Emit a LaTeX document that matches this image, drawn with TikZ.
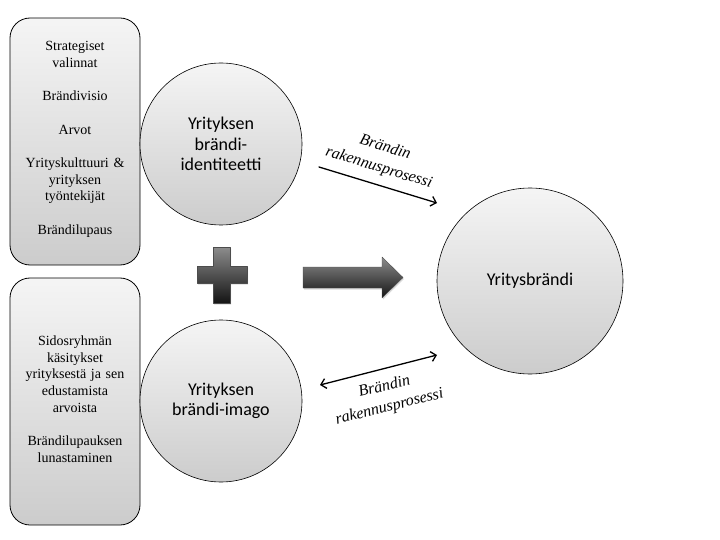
\documentclass[tikz,border=0pt]{standalone}
\usepackage{fontspec}
\setmainfont{Liberation Serif}
\newfontfamily\brandfont{Carlito}
\usetikzlibrary{arrows.meta,shadows}

\begin{document}
\begin{tikzpicture}[x=1pt, y=-1pt, line join=round,
  listbox/.style={draw=black, line width=0.8pt, rounded corners=20pt,
    top color=boxtop, bottom color=boxbot, minimum width=130pt,
    minimum height=247pt, text width=126pt, align=center, inner sep=0pt,
    font=\fontsize{14}{16.7}\selectfont},
  ball/.style={circle, draw=black, line width=0.6pt, top color=boxtop,
    bottom color=boxbot, align=center, inner sep=0pt,
    font=\brandfont\fontsize{18}{20.5}\selectfont},
  flow/.style={line width=1.3pt, line cap=round},
  flowlabel/.style={font=\itshape\fontsize{16}{21}\selectfont, align=center},
  solid3d/.style={draw=black!70, line width=0.4pt, top color=solidtop,
    bottom color=solidbot,
    drop shadow={shadow xshift=1pt, shadow yshift=-1.5pt, opacity=0.3}}]
  \definecolor{boxtop}{gray}{0.96}
  \definecolor{boxbot}{gray}{0.80}
  \definecolor{solidtop}{gray}{0.55}
  \definecolor{solidbot}{gray}{0.08}
  \useasboundingbox (0,0) rectangle (720,540);

  % left column
  \node[listbox] (choices) at (75,141.5) {\\[-12pt]Strategiset\\valinnat\\[16.7pt]
    Brändivisio\\[16.7pt]Arvot\\[16.7pt]Yrityskulttuuri \&\\yrityksen\\
    työntekijät\\[16.7pt]Brändilupaus};
  \node[listbox] (views) at (75,401.5) {\\[-12pt]Sidosryhmän\\käsitykset\\
    yrityksestä ja sen\\edustamista\\arvoista\\[16.7pt]
    Brändilupauksen\\lunastaminen};

  % circles
  \node[ball, minimum size=162pt] (identity) at (221,144)
    {Yrityksen\\brändi-\\identiteetti};
  \node[ball, minimum size=162pt] (image) at (221,401)
    {Yrityksen\\brändi-imago};
  \node[ball, minimum size=186pt] (brand) at (530,281) {Yritysbrändi};

  % plus and big arrow
  \path[solid3d] (213,247) -- (230,247) -- (230,266) -- (247,266)
    -- (247,283) -- (230,283) -- (230,303) -- (213,303) -- (213,283)
    -- (197,283) -- (197,266) -- (213,266) -- cycle;
  \path[solid3d] (303,267) -- (382,267) -- (382,257) -- (403,277.5)
    -- (382,298) -- (382,288) -- (303,288) -- cycle;

  % process arrows
  \coordinate (idout) at (319,167);
  \coordinate (brandin) at (437,203);
  \coordinate (imout) at (320,385);
  \coordinate (brandim) at (437,355);
  \draw[flow, -{Straight Barb[length=5pt,width=10pt]}] (idout) -- (brandin);
  \draw[flow, {Straight Barb[length=5pt,width=10pt]}-{Straight Barb[length=5pt,width=10pt]}]
    (imout) -- (brandim);
  \node[flowlabel, rotate=-17] (toplabel) at (382,158) {Brändin\\rakennusprosessi};
  \node[flowlabel, rotate=14] (botlabel) at (387,397) {Brändin\\rakennusprosessi};
\end{tikzpicture}
\end{document}
